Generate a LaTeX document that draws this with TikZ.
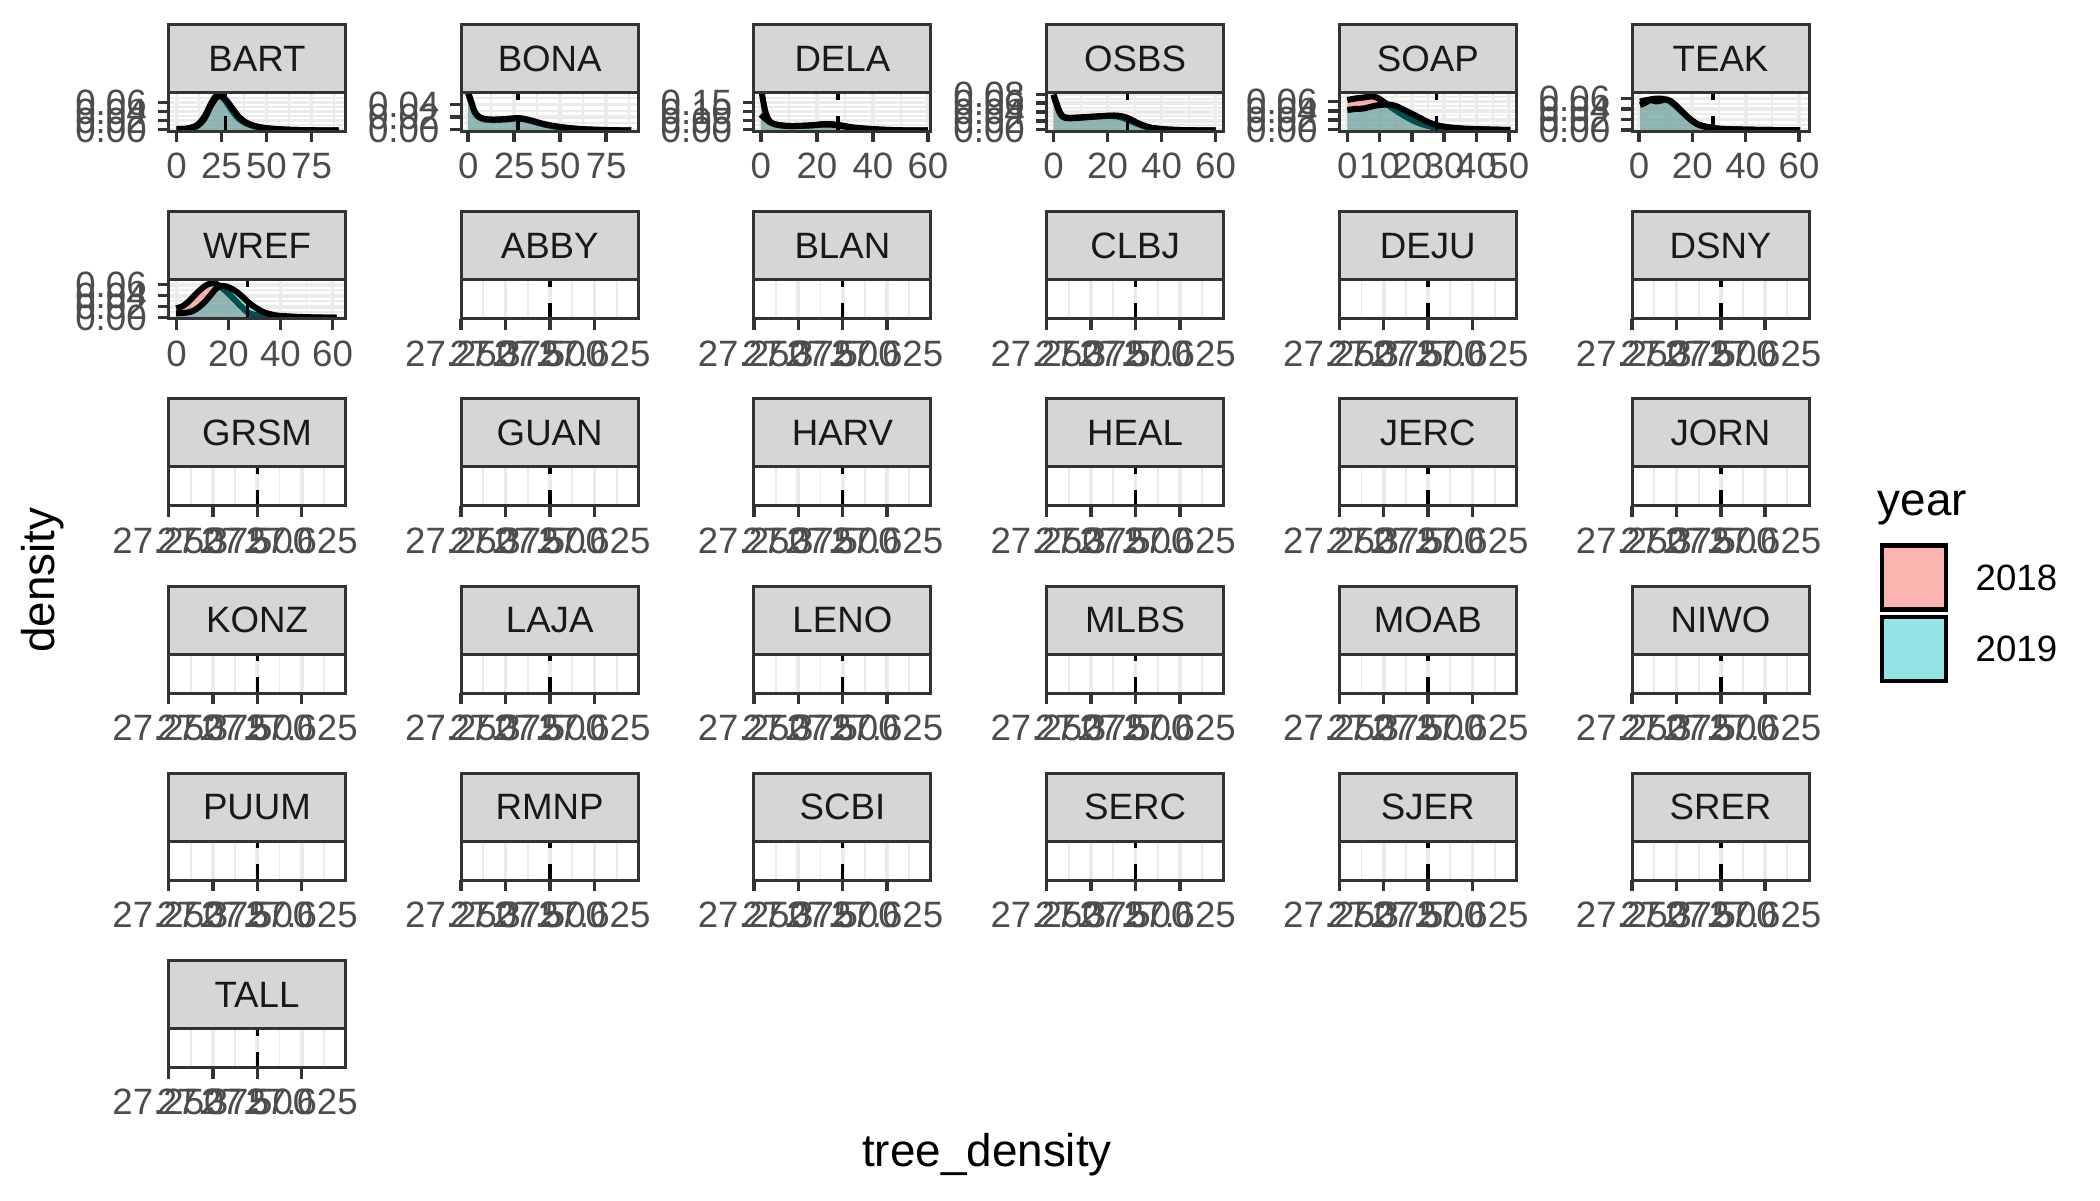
\documentclass[tikz,border=0pt]{standalone}
\usepackage{fontspec}
\setmainfont{Liberation Sans}
\usetikzlibrary{positioning}

\definecolor{framegray}{gray}{0.2}
\definecolor{stripgray}{gray}{0.84}
\definecolor{gridgray}{gray}{0.92}
\definecolor{axisink}{gray}{0.3}
\definecolor{stripink}{gray}{0.1}
\definecolor{pink18}{HTML}{F8766D}
\definecolor{teal19}{HTML}{00BFC4}

\tikzset{
  strip/.style={draw=framegray, fill=stripgray, line width=0.72pt, minimum width=42.64pt,
    minimum height=16.38pt, inner sep=0pt, outer sep=0pt, text=stripink,
    font=\fontsize{8.8bp}{10bp}\selectfont},
  panelbox/.style={draw=framegray, line width=0.72pt},
  majorgrid/.style={draw=gridgray, line width=0.9pt},
  minorgrid/.style={draw=gridgray, line width=0.45pt},
  axtick/.style={draw=framegray, line width=0.85pt},
  xlab/.style={anchor=north, inner sep=0pt, text=axisink, font=\fontsize{8.8bp}{10bp}\selectfont},
  ylab/.style={anchor=east, inner sep=0pt, text=axisink, font=\fontsize{8.8bp}{10bp}\selectfont},
  meanline/.style={black, line width=0.85pt, dash pattern=on 3.85pt off 3.85pt},
  curve/.style={black, line width=1.45pt, line join=round},
  y18/.style={fill=pink18, fill opacity=0.55},
  y19/.style={fill=teal19, fill opacity=0.42},
  axtitle/.style={inner sep=0pt, font=\fontsize{11bp}{13bp}\selectfont},
  legkey/.style={draw=black, line width=1.1pt, minimum size=15.4pt, inner sep=0pt},
  legtext/.style={inner sep=0pt, font=\fontsize{8.8bp}{10bp}\selectfont},
}

% density of one year: fill, then outline
\newcommand{\dens}[4]{%
  \fill[#1] (#3,0) -- plot[smooth, tension=0.6] coordinates {#2} -- (#4,0) -- cycle;
  \draw[curve] plot[smooth, tension=0.6] coordinates {#2};}

\newcommand{\panelgrid}[4]{%
  \foreach \g in {#2} \draw[minorgrid] (\g,0) -- (\g,39);
  \foreach \g in {#4} \draw[minorgrid] (0,\g) -- (177,\g);
  \foreach \g in {#1} \draw[majorgrid] (\g,0) -- (\g,39);
  \foreach \g in {#3} \draw[majorgrid] (0,\g) -- (177,\g);}

\newcommand{\xaxis}[2]{%
  \foreach \pos/\lab [count=\i] in {#2}{
    \draw[axtick] (\pos,0) -- (\pos,-11);
    \node[xlab] (#1-x\i) at (\pos,-21) {\lab};}}

\newcommand{\yaxis}[2]{%
  \foreach \pos/\lab [count=\i] in {#2}{
    \draw[axtick] (0,\pos) -- (-11,\pos);
    \node[ylab] (#1-y\i) at (-21,\pos) {\lab};}}

% panel with no data
\newcommand{\emptypanel}[3]{%
  \pgfmathsetmacro{\panx}{168.5+292.7*#1}
  \pgfmathsetmacro{\pany}{1068.5-187.2*#2}
  \begin{scope}[shift={(\panx,\pany)}]
    \node[strip] (#3) at (88.5,73) {#3};
    \foreach \g in {22.2,66.6,111,155.4} \draw[minorgrid] (\g,0) -- (\g,39);
    \foreach \g in {44.4,88.8,133.2} \draw[majorgrid] (\g,0) -- (\g,39);
    \draw[meanline] (88.8,0) -- (88.8,39);
    \draw[panelbox] (0,0) rectangle (177,39);
    \xaxis{#3}{0/27.250,44.4/27.375,88.8/27.500,133.2/27.625}
  \end{scope}}

\begin{document}
\begin{tikzpicture}[x=0.2409pt, y=0.2409pt]
  \useasboundingbox (0,0) rectangle (2100,1200);

  % BART
  \begin{scope}[shift={(168.5,1068.5)}]
    \node[strip] (BART) at (88.5,73) {BART};
    \panelgrid{8,53,98,143}{30.5,75.5,120.5,165.5}{2,11,20,29}{6.5,15.5,24.5,33.5}
    \begin{scope}
      \clip (0,0) rectangle (177,39);
      \dens{y18}{(8,2.5) (18,3) (28,6) (36,15) (42,27) (47,35) (51,36) (56,32) (62,23) (70,13) (80,7) (95,3.5) (120,1.8) (150,1.2) (170,1)}{8}{170}
      \dens{y19}{(8,2) (18,2.5) (28,5) (36,13) (42,25) (48,34) (52,35.5) (58,31) (64,23) (72,13) (82,7) (97,3.5) (120,1.8) (150,1.2) (170,1)}{8}{170}
    \end{scope}
    \draw[meanline] (57,0) -- (57,39);
    \draw[panelbox] (0,0) rectangle (177,39);
    \xaxis{BART}{8/0,53/25,98/50,143/75}
    \yaxis{BART}{2/0.00,11/0.02,20/0.04,29/0.06}
  \end{scope}

  % BONA
  \begin{scope}[shift={(461.2,1068.5)}]
    \node[strip] (BONA) at (88.5,73) {BONA};
    \panelgrid{7,53,99,145}{30,76,122,168}{2,14.5,27}{8.25,20.75,33.25}
    \begin{scope}
      \clip (0,0) rectangle (177,39);
      \dens{y18}{(7,38) (10,29) (14,18) (20,13) (30,11.5) (45,12) (57,13) (68,11) (85,6.5) (105,3.5) (130,1.8) (170,1)}{7}{170}
      \dens{y19}{(7,39) (10,30) (14,19) (20,13.5) (30,12) (45,12.5) (57,13.5) (68,11.5) (85,7) (105,3.8) (130,2) (170,1)}{7}{170}
    \end{scope}
    \draw[meanline] (57,0) -- (57,39);
    \draw[panelbox] (0,0) rectangle (177,39);
    \xaxis{BONA}{7/0,53/25,99/50,145/75}
    \yaxis{BONA}{2/0.00,14.5/0.02,27/0.04}
  \end{scope}

  % DELA
  \begin{scope}[shift={(753.9,1068.5)}]
    \node[strip] (DELA) at (88.5,73) {DELA};
    \panelgrid{7,63,119,174}{35,91,147}{2,11,20,29}{6.5,15.5,24.5,33.5}
    \begin{scope}
      \clip (0,0) rectangle (177,39);
      \dens{y18}{(7,46) (9,32) (12,18) (16,10) (22,7) (35,5.5) (55,6) (72,7.5) (85,6.5) (100,4) (125,2) (150,1.2) (174,1)}{7}{174}
      \dens{y19}{(7,17) (10,14) (15,10) (22,7) (35,5.5) (55,6) (72,7) (85,6) (100,3.5) (125,2) (150,1.2) (174,1)}{7}{174}
    \end{scope}
    \draw[meanline] (84,0) -- (84,39);
    \draw[panelbox] (0,0) rectangle (177,39);
    \xaxis{DELA}{7/0,63/20,119/40,174/60}
    \yaxis{DELA}{2/0.00,11/0.05,20/0.10,29/0.15}
  \end{scope}

  % OSBS
  \begin{scope}[shift={(1046.6,1068.5)}]
    \node[strip] (OSBS) at (88.5,73) {OSBS};
    \panelgrid{7,61,115,169}{34,88,142}{2,10.75,19.5,28.25,37}{6.4,15.1,23.9,32.6}
    \begin{scope}
      \clip (0,0) rectangle (177,39);
      \dens{y18}{(7,37) (10,28) (14,18) (19,14) (30,14) (50,15) (65,15.5) (75,14) (85,10) (95,6) (105,3.5) (125,1.8) (150,1.2) (169,1)}{7}{169}
      \dens{y19}{(7,36) (10,27) (14,17) (19,13.5) (30,13.5) (50,15) (68,16) (80,14) (90,9) (100,5) (110,3) (130,1.6) (169,1)}{7}{169}
    \end{scope}
    \draw[meanline] (81,0) -- (81,39);
    \draw[panelbox] (0,0) rectangle (177,39);
    \xaxis{OSBS}{7/0,61/20,115/40,169/60}
    \yaxis{OSBS}{2/0.00,10.75/0.02,19.5/0.04,28.25/0.06,37/0.08}
  \end{scope}

  % SOAP
  \begin{scope}[shift={(1339.3,1068.5)}]
    \node[strip] (SOAP) at (88.5,73) {SOAP};
    \panelgrid{8,40.3,72.6,104.9,137.2,169.5}{24.2,56.5,88.8,121.1,153.4}{2,11.3,20.6,30}{6.65,15.95,25.3,34.6}
    \begin{scope}
      \clip (0,0) rectangle (177,39);
      \dens{y18}{(8,31.5) (16,33) (24,34) (34,35) (41,32) (48,27) (58,20) (68,14) (78,9) (91,5) (104,3.5) (124,2.5) (150,2) (171,1.5)}{8}{171}
      \dens{y19}{(8,21.5) (16,22.5) (24,23) (37,26) (47,27) (53,26.5) (58,25) (68,20) (78,15) (91,8.5) (104,5) (124,3) (150,2) (171,1.5)}{8}{171}
    \end{scope}
    \draw[meanline] (97,0) -- (97,39);
    \draw[panelbox] (0,0) rectangle (177,39);
    \xaxis{SOAP}{8/0,40.3/10,72.6/20,104.9/30,137.2/40,169.5/50}
    \yaxis{SOAP}{2/0.00,11.3/0.02,20.6/0.04,30/0.06}
  \end{scope}

  % TEAK
  \begin{scope}[shift={(1632.0,1068.5)}]
    \node[strip] (TEAK) at (88.5,73) {TEAK};
    \panelgrid{7,60.3,113.7,167}{33.7,87,140.3}{1.5,12,22.5,33}{6.75,17.25,27.75,38.25}
    \begin{scope}
      \clip (0,0) rectangle (177,39);
      \dens{y18}{(8,30) (15,31.5) (26,33) (35,31.5) (43,26) (51,18.5) (60,11) (68,6.5) (85,3) (110,2) (140,1.5) (168,1.3)}{8}{168}
      \dens{y19}{(8,26.5) (14,29) (18,31.5) (25,30) (35,32) (43,27) (52,18) (61,10) (70,5.5) (87,2.8) (110,2) (140,1.5) (168,1.3)}{8}{168}
    \end{scope}
    \draw[meanline] (81,0) -- (81,39);
    \draw[panelbox] (0,0) rectangle (177,39);
    \xaxis{TEAK}{7/0,60.3/20,113.7/40,167/60}
    \yaxis{TEAK}{1.5/0.00,12/0.02,22.5/0.04,33/0.06}
  \end{scope}

  % WREF
  \begin{scope}[shift={(168.5,881.3)}]
    \node[strip] (WREF) at (88.5,73) {WREF};
    \panelgrid{8,60,112,164}{34,86,138}{1,12,23,34}{6.5,17.5,28.5}
    \begin{scope}
      \clip (0,0) rectangle (177,39);
      \dens{y18}{(7.7,10.4) (15,13) (22,19) (28,25.4) (38,33.7) (46,35.4) (54,30.4) (61,24) (68,17) (75,10) (81,5.4) (92,3) (101,2) (130,1.3) (168,1)}{7.7}{168}
      \dens{y19}{(7.7,5.4) (16,5.8) (24,7.5) (31,12) (38,18.7) (44,26) (48,30.4) (54,33) (61,31) (68,27) (75,21) (81,15.4) (88,10.5) (94,7) (104,4) (114,2.7) (140,1.5) (168,1)}{7.7}{168}
    \end{scope}
    \draw[meanline] (79,0) -- (79,39);
    \draw[panelbox] (0,0) rectangle (177,39);
    \xaxis{WREF}{8/0,60/20,112/40,164/60}
    \yaxis{WREF}{1/0.00,12/0.02,23/0.04,34/0.06}
  \end{scope}

  % sites without data
  \foreach \col/\row/\site in {1/1/ABBY, 2/1/BLAN, 3/1/CLBJ, 4/1/DEJU, 5/1/DSNY,
      0/2/GRSM, 1/2/GUAN, 2/2/HARV, 3/2/HEAL, 4/2/JERC, 5/2/JORN,
      0/3/KONZ, 1/3/LAJA, 2/3/LENO, 3/3/MLBS, 4/3/MOAB, 5/3/NIWO,
      0/4/PUUM, 1/4/RMNP, 2/4/SCBI, 3/4/SERC, 4/4/SJER, 5/4/SRER,
      0/5/TALL}
    \emptypanel{\col}{\row}{\site};

  % axis titles
  \node[axtitle] (xtitle) at (987,45) {tree\_density};
  \node[axtitle, rotate=90] (ytitle) at (43,620) {density};

  % legend
  \node[axtitle, anchor=west] (legtitle) at (1877,692) {year};
  \node[legkey, y18] (key18) at (1914,622.5) {};
  \node[legkey, y19] (key19) at (1914,551) {};
  \node[legtext, right=6.4pt of key18] (lab18) {2018};
  \node[legtext, right=6.4pt of key19] (lab19) {2019};
\end{tikzpicture}
\end{document}
